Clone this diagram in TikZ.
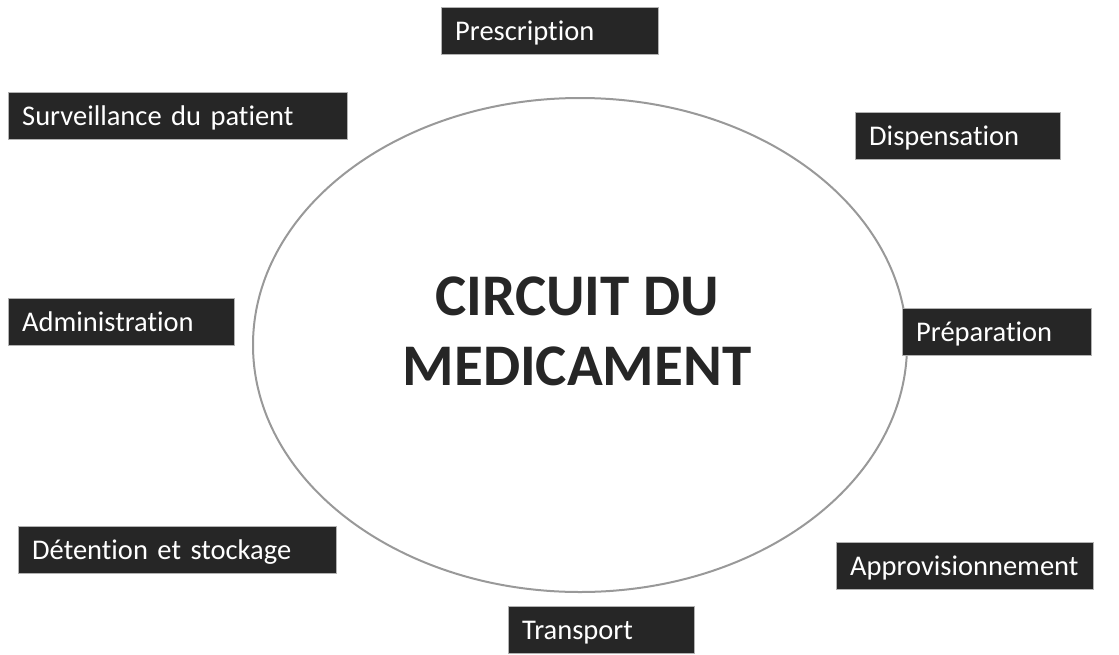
\documentclass[tikz,border=0pt]{standalone}
\usepackage{fontspec}
\setmainfont[Ligatures=NoCommon]{Carlito}
\usetikzlibrary{shapes.geometric}
\definecolor{boxgray}{HTML}{262626}

\begin{document}
\begin{tikzpicture}[
  x=1pt,
  y=-1pt,
  mybox/.style={
    anchor=north west,
    fill=boxgray,
    draw=gray!60,
    thin,
    text=white,
    font=\fontsize{28.5}{30}\selectfont,
    minimum height=47pt,
    text height=24pt,
    text depth=4pt,
    inner xsep=14pt,
    inner ysep=0pt,
    align=left,
    text width=#1
  }
]
\useasboundingbox (0,0) rectangle (1119,654);
\node[ellipse, draw=gray!80, line width=2pt, minimum width=654pt, minimum height=494pt]
  (circuit) at (580,345) {};
\node[align=center, font=\fontsize{59}{70}\selectfont\bfseries, text=boxgray, inner sep=0pt]
  (title) at (577,331) {CIRCUIT DU\\MEDICAMENT};
\node[mybox=189pt] (prescription) at (441,7) {Prescription};
\node[mybox=311pt] (surveillance) at (8,92) {Surveillance du patient};
\node[mybox=177pt] (dispensation) at (855,112) {Dispensation};
\node[mybox=198pt] (administration) at (8,298) {Administration};
\node[mybox=161pt] (preparation) at (902,308) {Préparation};
\node[mybox=290pt] (detention) at (18,526) {Détention et stockage};
\node[mybox=229pt] (approvisionnement) at (836,542) {Approvisionnement};
\node[mybox=158pt] (transport) at (508,606) {Transport};
\end{tikzpicture}
\end{document}
